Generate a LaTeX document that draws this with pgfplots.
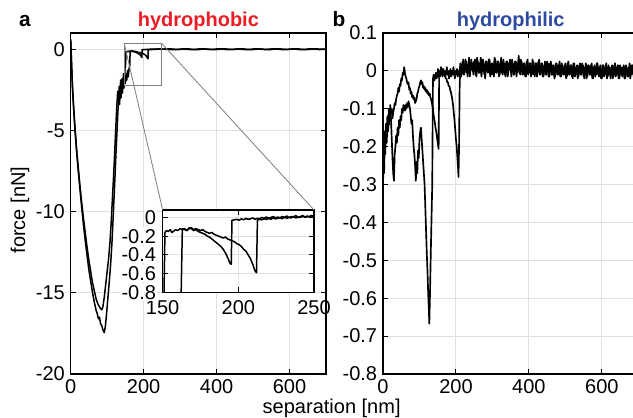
\documentclass[border=0pt]{standalone}
\usepackage{pgfplots}
\pgfplotsset{compat=1.18}
\usepackage{pgfplotstable}
\usepackage{fontspec}
\setmainfont{Liberation Sans}
\definecolor{hred}{RGB}{237,28,36}
\definecolor{hblue}{RGB}{46,74,160}

% panel a, two retraction curves (nm, nN)
\pgfplotstableread{
x y
0 0.6
1 0
3 -1.2
5 -2.3
8 -3.5
12 -4.9
16 -6.1
20 -7.1
25 -8.3
30 -9.4
35 -10.4
40 -11.3
45 -12.2
50 -13.0
55 -13.7
60 -14.4
65 -14.9
70 -15.4
75 -15.7
80 -15.9
85 -16.05
88 -15.9
92 -15.3
96 -14.5
100 -13.7
104 -12.9
108 -11.8
111 -10.7
114 -9.4
117 -8.1
120 -6.7
123 -5.2
125 -4.2
127 -3.3
129 -2.6
131 -3.1
133 -2.3
135 -2.8
137 -1.9
139 -2.5
141 -1.8
143 -2.2
145 -1.5
147 -1.9
149 -1.2
150.8 -0.9
151.5 -0.16
152.5 -0.14
153.7 -0.15
155 -0.13
156 -0.16
157 -0.15
158.5 -0.13
160 -0.14
161.5 -0.12
163 -0.13
164.5 -0.12
166 -0.14
167.5 -0.12
169 -0.11
170.5 -0.13
172 -0.12
173.5 -0.13
175 -0.14
176.5 -0.13
178 -0.15
179.5 -0.16
181 -0.17
182.5 -0.16
184 -0.18
185.5 -0.19
187 -0.2
188.5 -0.21
190 -0.22
191.5 -0.21
193 -0.23
194.5 -0.24
196 -0.25
197.5 -0.26
199 -0.28
200.5 -0.29
202 -0.31
203.5 -0.34
205 -0.36
206.5 -0.4
208 -0.44
209.5 -0.5
211 -0.57
212 -0.59
212.6 -0.03
214 -0.02
215.5 -0.025
217 -0.015
218.5 -0.02
220 -0.01
221.5 -0.02
223 -0.005
224.5 -0.015
226 -0.01
227.5 0.0
229 -0.015
230.5 0.005
232 -0.01
233.5 0.0
235 -0.005
236.5 0.01
238 -0.005
239.5 0.005
241 0.0
242.5 0.015
244 0.0
245.5 0.01
247 0.005
248.5 0.02
250 0.005
270 0.03
295 -0.02
320 0.03
345 -0.03
370 0.02
395 -0.03
420 0.03
445 -0.02
470 0.03
495 -0.03
520 0.02
545 -0.03
570 0.03
595 -0.02
620 0.03
645 -0.03
670 0.02
700 0.0
}\curveA

\pgfplotstableread{
x y
0 0.6
1 0
3 -1.3
5 -2.4
8 -3.6
12 -5.0
16 -6.2
20 -7.3
25 -8.5
30 -9.7
35 -10.8
40 -11.8
45 -12.7
50 -13.6
55 -14.3
60 -15.0
65 -15.6
70 -16.1
73 -16.3
76 -16.6
79 -16.5
82 -16.9
85 -17.0
88 -17.25
92 -17.45
95 -17.1
98 -16.4
101 -15.6
104 -14.8
107 -14.0
110 -13.1
113 -12.0
116 -10.6
119 -9.1
122 -7.6
125 -6.0
128 -4.6
130 -3.6
132 -2.9
134 -3.4
136 -2.5
138 -3.0
140 -2.2
142 -2.7
144 -1.9
146 -2.4
148 -1.7
150 -2.1
152 -1.5
154 -1.9
156 -1.3
158 -1.7
160 -1.2
162 -1.0
163 -0.12
164.5 -0.13
166 -0.14
167.5 -0.11
169 -0.12
170.5 -0.14
172 -0.13
173.5 -0.15
175 -0.16
176.5 -0.17
178 -0.18
179.5 -0.2
181 -0.21
182.5 -0.23
184 -0.25
185.5 -0.27
187 -0.29
188.5 -0.31
190 -0.34
191.5 -0.38
193 -0.43
194.5 -0.49
195.3 -0.5
195.8 -0.03
197.5 -0.025
199 -0.02
200.5 -0.03
202 -0.015
203.5 -0.025
205 -0.01
206.5 -0.02
208 -0.015
209.5 -0.005
211 -0.02
212.5 -0.01
214 -0.015
215.5 0.0
217 -0.01
218.5 0.005
220 -0.01
221.5 0.0
223 0.01
224.5 -0.005
226 0.005
227.5 -0.005
229 0.01
230.5 0.0
232 0.015
233.5 0.0
235 0.01
236.5 0.005
238 0.02
239.5 0.0
241 0.01
242.5 0.02
244 0.005
245.5 0.015
247 0.01
248.5 0.02
250 0.01
282 -0.03
307 0.02
332 -0.03
357 0.03
382 -0.02
407 0.03
432 -0.03
457 0.02
482 -0.03
507 0.03
532 -0.02
557 0.03
582 -0.03
607 0.02
632 -0.03
657 0.03
682 -0.02
700 0.0
}\curveB

% panel b (nm, nN)
\pgfplotstableread{
x y
0 -0.3
1.5 -0.24
3 -0.27
4.5 -0.2
6 -0.22
8 -0.17
10 -0.19
12 -0.15
14 -0.16
16 -0.13
18 -0.14
20 -0.1
22 -0.11
24 -0.1
26 -0.125
28 -0.11
30 -0.1
32 -0.085
34 -0.09
36 -0.075
38 -0.065
40 -0.06
42 -0.045
44 -0.055
46 -0.035
48 -0.04
50 -0.02
52 -0.025
54 -0.005
56 -0.01
58 0.01
60 -0.005
62 -0.015
64 -0.02
66 -0.03
68 -0.035
70 -0.03
72 -0.05
74 -0.045
76 -0.06
78 -0.055
80 -0.07
82 -0.065
84 -0.075
86 -0.07
88 -0.085
90 -0.08
92 -0.075
94 -0.06
96 -0.055
98 -0.045
100 -0.04
102 -0.03
104 -0.025
106 -0.035
108 -0.03
110 -0.045
112 -0.04
114 -0.05
116 -0.045
118 -0.055
120 -0.05
122 -0.06
124 -0.055
126 -0.065
128 -0.06
130 -0.07
132 -0.075
134 -0.085
136 -0.095
138 -0.11
140 -0.125
142 -0.135
144 -0.15
146 -0.16
148 -0.175
150 -0.19
152.5 -0.206
154 -0.01
156 -0.015
158 0.0
160 -0.01
162 0.005
164 -0.005
166 -0.01
168 -0.005
170 -0.015
172 -0.02
174 -0.02
176 -0.03
178 -0.03
180 -0.04
182 -0.04
184 -0.05
186 -0.055
188 -0.065
190 -0.075
192 -0.09
194 -0.11
196 -0.13
198 -0.155
200 -0.18
202 -0.2
204 -0.23
206 -0.26
207 -0.28
208.5 -0.2
210 -0.05
212 0.02
216 -0.01
220 0.03
224 -0.005
228 0.025
232 -0.015
236 0.035
240 0.0
244 0.02
248 -0.01
252 0.03
256 -0.015
260 0.025
264 -0.005
268 0.035
272 0.0
276 0.02
280 -0.02
284 0.025
288 -0.005
292 0.03
296 -0.01
300 0.02
304 -0.015
308 0.03
312 -0.005
316 0.025
320 -0.01
324 0.035
328 -0.01
332 0.02
336 -0.015
340 0.025
344 0.0
348 0.03
352 -0.015
356 0.02
360 -0.01
364 0.025
368 -0.005
372 0.04
376 -0.01
380 0.025
384 -0.01
388 0.02
392 -0.015
396 0.03
400 -0.005
404 0.02
408 -0.01
412 0.025
416 -0.015
420 0.02
424 -0.005
428 0.03
432 -0.01
436 0.02
440 -0.015
444 0.025
448 -0.01
452 0.02
456 -0.015
460 0.025
464 -0.01
468 0.015
472 -0.015
476 0.02
480 -0.01
484 0.025
488 -0.015
492 0.015
496 -0.01
500 0.02
504 -0.015
508 0.025
512 -0.01
516 0.015
520 -0.02
524 0.02
528 -0.01
532 0.015
536 -0.015
540 0.02
544 -0.01
548 0.015
552 -0.02
556 0.02
560 -0.015
564 0.015
568 -0.01
572 0.02
576 -0.02
580 0.015
584 -0.01
588 0.02
592 -0.015
596 0.015
600 -0.02
604 0.015
608 -0.01
612 0.02
616 -0.015
620 0.01
624 -0.02
628 0.015
632 -0.015
636 0.02
640 -0.01
644 0.015
648 -0.02
652 0.01
656 -0.015
660 0.015
664 -0.02
668 0.01
672 -0.015
676 0.02
680 -0.01
684 0.015
688 -0.02
692 0.01
696 -0.015
700 0.01
}\curveU

\pgfplotstableread{
x y
0 -0.29
1 -0.2
2.5 -0.24
4 -0.16
6 -0.19
8 -0.14
10 -0.16
12 -0.12
14 -0.14
16 -0.1
18 -0.12
20 -0.09
22 -0.13
24 -0.18
26 -0.23
28 -0.27
30 -0.29
32 -0.22
34 -0.2
36 -0.17
38 -0.19
40 -0.15
42 -0.17
44 -0.13
46 -0.15
48 -0.12
50 -0.13
52 -0.1
54 -0.11
56 -0.09
58 -0.1
60 -0.105
62 -0.09
64 -0.1
66 -0.085
68 -0.095
70 -0.08
72 -0.09
74 -0.1
76 -0.12
78 -0.14
80 -0.13
82 -0.17
84 -0.2
86 -0.22
88 -0.25
90 -0.29
92 -0.24
94 -0.27
96 -0.21
98 -0.23
100 -0.18
102 -0.16
104 -0.15
106 -0.18
108 -0.21
110 -0.24
112 -0.27
114 -0.3
116 -0.36
118 -0.42
120 -0.48
122 -0.53
124 -0.59
126 -0.64
127 -0.667
129 -0.58
131 -0.48
133 -0.39
135 -0.3
136 -0.15
137 -0.02
139 -0.01
141 -0.025
143 -0.015
145 -0.005
147 -0.02
149 -0.01
151 0.005
153 -0.015
155 0.0
157 -0.01
159 0.01
161 -0.005
163 -0.015
165 0.005
167 -0.01
169 0.0
171 -0.015
173 -0.005
175 0.01
177 -0.01
179 0.0
181 -0.02
183 -0.005
185 0.005
187 -0.015
189 0.0
191 -0.01
193 0.01
195 -0.005
197 -0.02
199 0.0
201 -0.01
203 0.005
205 -0.015
207 0.0
209 -0.01
211 0.01
214 -0.015
218 0.025
222 -0.01
226 0.03
230 -0.005
234 0.02
238 -0.015
242 0.03
246 0.0
250 0.025
254 -0.01
258 0.035
262 -0.005
266 0.02
270 -0.015
274 0.03
278 -0.01
282 0.025
286 0.0
290 0.03
294 -0.015
298 0.02
302 -0.01
306 0.035
310 -0.005
314 0.025
318 -0.015
322 0.02
326 -0.005
330 0.03
334 -0.01
338 0.025
342 -0.015
346 0.02
350 0.0
354 0.03
358 -0.01
362 0.025
366 -0.015
370 0.02
374 -0.005
378 0.03
382 -0.01
386 0.02
390 -0.015
394 0.025
398 -0.01
402 0.02
406 -0.015
410 0.03
414 -0.01
418 0.02
422 -0.015
426 0.025
430 -0.01
434 0.02
438 -0.015
442 0.015
446 -0.01
450 0.025
454 -0.015
458 0.02
462 -0.01
466 0.015
470 -0.02
474 0.02
478 -0.01
482 0.015
486 -0.015
490 0.02
494 -0.01
498 0.015
502 -0.02
506 0.02
510 -0.01
514 0.015
518 -0.015
522 0.02
526 -0.015
530 0.01
534 -0.02
538 0.015
542 -0.01
546 0.02
550 -0.015
554 0.01
558 -0.02
562 0.015
566 -0.01
570 0.015
574 -0.02
578 0.01
582 -0.015
586 0.02
590 -0.01
594 0.01
598 -0.02
602 0.015
606 -0.015
610 0.01
614 -0.02
618 0.015
622 -0.01
626 0.01
630 -0.02
634 0.015
638 -0.015
642 0.01
646 -0.02
650 0.015
654 -0.01
658 0.01
662 -0.02
666 0.015
670 -0.015
674 0.01
678 -0.02
682 0.015
686 -0.01
690 0.01
694 -0.02
698 0.01
700 0.0
}\curveL

\pgfplotsset{
  matlab/.style={
    scale only axis,
    width=153.2pt, height=204.6pt,
    xmin=0, xmax=700,
    xtick={0,200,400,600},
    axis line style={line width=0.7pt},
    grid=major,
    major grid style={line width=0.6pt, black!12},
    tick align=inside,
    major tick length=3pt,
    tick style={line width=0.6pt, black},
    ticklabel style={font=\fontsize{12}{14}\selectfont},
    /pgf/number format/assume math mode=true,
  },
  curve/.style={black, line width=0.9pt, no markers, line join=round},
}

\begin{document}
\begin{tikzpicture}
\useasboundingbox (0,0) rectangle (379.8pt,250.8pt);

\begin{axis}[matlab, name=pa, at={(42.4pt,26.4pt)}, anchor=south west,
    ymin=-20, ymax=1, ytick={0,-5,-10,-15,-20}]
\addplot[curve] table[x=x, y=y] {\curveA};
\addplot[curve] table[x=x, y=y] {\curveB};
\draw[black!50, line width=0.5pt] (axis cs:147,0.35) rectangle (axis cs:250,-2.2);
\coordinate (r1) at (axis cs:147,0.35);
\coordinate (r2) at (axis cs:250,0.35);
\end{axis}

\begin{axis}[matlab, name=pb, at={(229.8pt,26.4pt)}, anchor=south west,
    ymin=-0.8, ymax=0.1, ytick={0.1,0,-0.1,-0.2,-0.3,-0.4,-0.5,-0.6,-0.7,-0.8},
    yticklabel style={/pgf/number format/fixed}]
\addplot[curve, line width=1pt] table[x=x, y=y] {\curveU};
\addplot[curve, line width=1pt] table[x=x, y=y] {\curveL};
\end{axis}

\begin{axis}[matlab, name=inset, at={(97.6pt,75.4pt)}, anchor=south west,
    width=90.8pt, height=49.4pt,
    xmin=150, xmax=250, xtick={150,200,250},
    ymin=-0.8, ymax=0.08, ytick={0,-0.2,-0.4,-0.6,-0.8},
    axis background/.style={fill=white},
    yticklabel style={fill=white, inner sep=0.8pt, xshift=-3pt, /pgf/number format/fixed},
    xticklabel style={yshift=-1.5pt}]
\addplot[curve] table[x=x, y=y] {\curveA};
\addplot[curve] table[x=x, y=y] {\curveB};
\end{axis}

\draw[black!50, line width=0.5pt] (r1) -- (inset.north west);
\draw[black!50, line width=0.5pt] (r2) -- (inset.north east);

\node[anchor=base, font=\fontsize{12.5}{14}\selectfont\bfseries] at (15pt,235pt) {a};
\node[anchor=base, font=\fontsize{12}{14}\selectfont\bfseries, text=hred] at (119pt,235pt) {hydrophobic};
\node[anchor=base, font=\fontsize{12.5}{14}\selectfont\bfseries] at (203.4pt,235pt) {b};
\node[anchor=base, font=\fontsize{12}{14}\selectfont\bfseries, text=hblue] at (306.4pt,235pt) {hydrophilic};
\node[rotate=90, font=\fontsize{12}{14}\selectfont] at (12pt,124.8pt) {force [nN]};
\node[anchor=base, font=\fontsize{12}{14}\selectfont] at (199pt,2.6pt) {separation [nm]};
\end{tikzpicture}
\end{document}
